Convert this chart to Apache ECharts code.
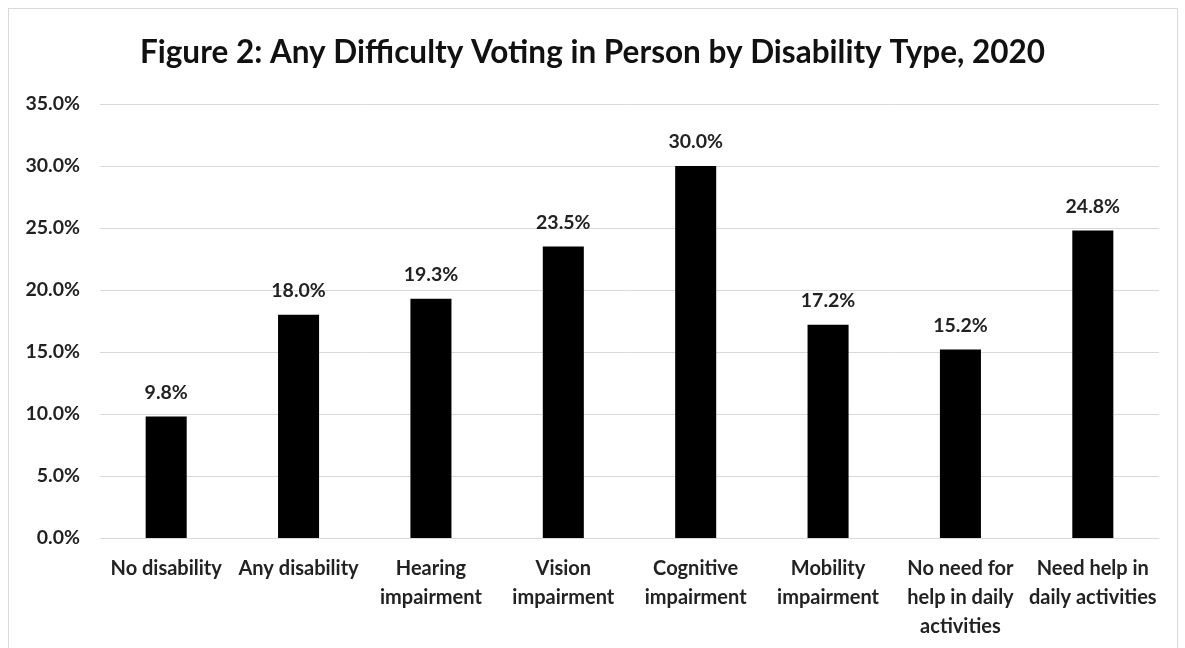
<!DOCTYPE html>
<html>
<head>
<meta charset="utf-8">
<script src="https://cdn.jsdelivr.net/npm/echarts@6/dist/echarts.min.js"></script>
<style>
  html, body { margin: 0; padding: 0; background: #fff; }
  #frame { position: absolute; left: 8px; top: 8px; width: 1170px; height: 660px; border: 1px solid #d9d9d9; box-sizing: border-box; }
  #chart { width: 1185px; height: 648px; position: absolute; left: 0; top: 0; }
</style>
</head>
<body>
<div id="frame"></div>
<div id="chart"></div>
<script>
const titleText = 'Figure 2: Any Difficulty Voting in Person by Disability Type, 2020';
const categories = [
  'No disability',
  'Any disability',
  'Hearing\nimpairment',
  'Vision\nimpairment',
  'Cognitive\nimpairment',
  'Mobility\nimpairment',
  'No need for\nhelp in daily\nactivities',
  'Need help in\ndaily activities'
];
const values = [9.8, 18.0, 19.3, 23.5, 30.0, 17.2, 15.2, 24.8];
const yMin = 0, yMax = 35, yStep = 5;

const font = 'Lato, "Open Sans", sans-serif';
const chart = echarts.init(document.getElementById('chart'), null, { renderer: 'canvas' });
chart.setOption({
  backgroundColor: 'transparent',
  animation: false,
  title: {
    text: titleText,
    left: 'center',
    top: 32,
    textStyle: { fontFamily: font, fontSize: 31.5, fontWeight: 'bold', color: '#111' }
  },
  grid: { left: 100, right: 26, top: 104, bottom: 110, containLabel: false },
  xAxis: {
    type: 'category',
    data: categories,
    axisLine: { show: true, lineStyle: { color: '#d9d9d9', width: 1 } },
    axisTick: { show: false },
    axisLabel: {
      interval: 0,
      margin: 16,
      fontFamily: font,
      fontSize: 20,
      fontWeight: 'bold',
      color: '#222',
      lineHeight: 29
    }
  },
  yAxis: {
    type: 'value',
    min: yMin,
    max: yMax,
    interval: yStep,
    axisLine: { show: false },
    axisTick: { show: false },
    splitLine: { lineStyle: { color: '#d9d9d9', width: 1 } },
    axisLabel: {
      margin: 20,
      fontFamily: font,
      fontSize: 19.5,
      fontWeight: 'bold',
      color: '#222',
      formatter: v => v.toFixed(1) + '%'
    }
  },
  series: [{
    type: 'bar',
    data: values,
    barWidth: '31%',
    itemStyle: { color: '#000' },
    label: {
      show: true,
      position: 'top',
      distance: 14,
      fontFamily: font,
      fontSize: 19.5,
      fontWeight: 'bold',
      color: '#222',
      formatter: p => p.value.toFixed(1) + '%'
    }
  }]
});
</script>
</body>
</html>
